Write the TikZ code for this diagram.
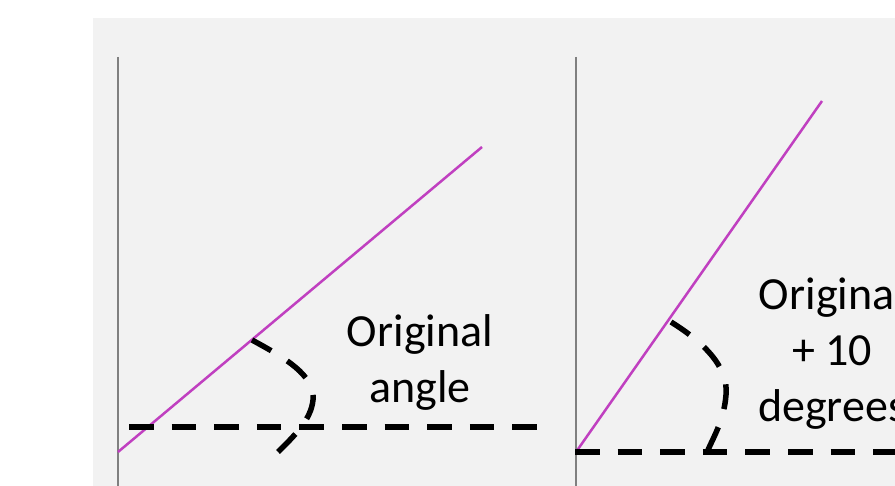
\documentclass[tikz,border=0pt]{standalone}
\usepackage{fontspec}
\setmainfont{Carlito}
\definecolor{bggray}{RGB}{242,242,242}
\definecolor{axisgray}{RGB}{128,128,128}
\definecolor{mag}{RGB}{192,64,192}
\begin{document}
\begin{tikzpicture}[x=1pt,y=-1pt,
  axis/.style={draw=axisgray,line width=1.4pt},
  ray/.style={draw=mag,line width=2.5pt},
  dashline/.style={draw=black,line width=6pt,dash pattern=on 24.5pt off 18.1pt},
  arcline/.style={draw=black,line width=5.5pt,dash pattern=on 25pt off 19pt},
  lbl/.style={font=\fontsize{46}{56}\selectfont,align=center,text=black,inner sep=0pt}]
\clip (0,0) rectangle (895,486);
\fill[white] (0,0) rectangle (895,486);
\fill[bggray] (93,18) rectangle (900,490);
% left panel
\coordinate (lv1) at (118,57);
\coordinate (lv2) at (118,490);
\draw[axis] (lv1) -- (lv2);
\coordinate (la) at (118,452);
\coordinate (lb) at (482,147);
\draw[ray] (la) -- (lb);
\coordinate (lh1) at (129,427);
\coordinate (lh2) at (540,427);
\draw[dashline] (lh1) -- (lh2);
\coordinate (larcs) at (252,340);
\coordinate (larcm) at (313,400);
\coordinate (larce) at (278,452);
\draw[arcline] (larce) .. controls (294,436) and (311,420) .. (larcm) .. controls (315,375) and (285,358) .. (larcs);
\node[lbl] (ltext) at (420,362) {Original\\angle};
% right panel
\coordinate (rv1) at (576,57);
\coordinate (rv2) at (576,490);
\draw[axis] (rv1) -- (rv2);
\coordinate (ra) at (576,452);
\coordinate (rb) at (822,101);
\draw[ray] (ra) -- (rb);
\coordinate (rh1) at (575,452);
\coordinate (rh2) at (910,452);
\draw[dashline] (rh1) -- (rh2);
\coordinate (rarcs) at (671,322);
\coordinate (rarcm) at (726,395);
\coordinate (rarce) at (708,450);
\draw[arcline] (rarce) .. controls (714,436) and (724,420) .. (rarcm) .. controls (729,365) and (700,340) .. (rarcs);
\node[lbl] (rtext) at (832,353) {Original\\+ 10\\degrees};
\end{tikzpicture}
\end{document}
